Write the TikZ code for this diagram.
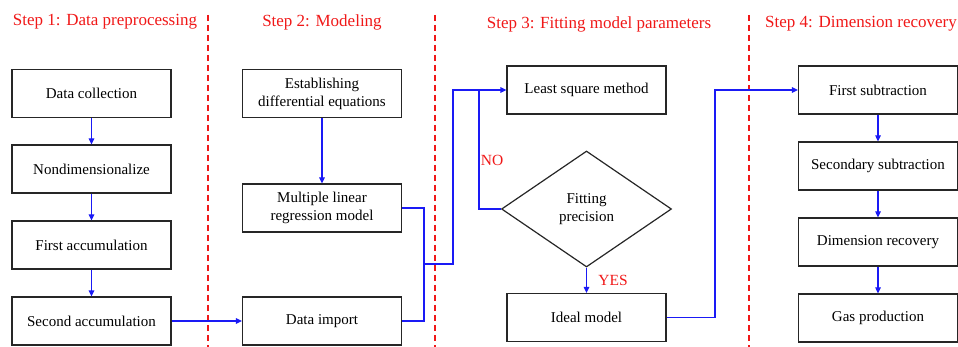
\documentclass[tikz,border=0pt]{standalone}
\usepackage{fontspec}
\setmainfont{Liberation Serif}
\usetikzlibrary{arrows.meta,shapes.geometric}
\definecolor{stepred}{HTML}{F01818}
\definecolor{flowblue}{HTML}{1A1AF5}
\tikzset{
  box/.style={draw=black!85,line width=1.2pt,minimum width=159pt,minimum height=48pt,inner sep=2pt,align=center,font=\fontsize{15}{18}\selectfont},
  dia/.style={draw=black!85,line width=1.2pt,diamond,minimum width=170pt,minimum height=116pt,inner sep=0pt,align=center,font=\fontsize{15}{18}\selectfont},
  flow/.style={draw=flowblue,line width=1.2pt},
  arr/.style={flow,-{Triangle[length=6pt,width=5.5pt]}},
  steplabel/.style={text=stepred,font=\fontsize{17}{20}\selectfont,inner sep=0pt},
  yn/.style={text=stepred,font=\fontsize{15.5}{18}\selectfont,inner sep=0pt},
  sep/.style={draw=stepred,line width=1.2pt,dash pattern=on 6pt off 4pt}
}
\begin{document}
\begin{tikzpicture}[x=1pt,y=-1pt]
\useasboundingbox (0,0) rectangle (958,347);
% separators
\draw[sep] (208,15) -- (208,347);
\draw[sep] (435,15) -- (435,347);
\draw[sep] (749,15) -- (749,347);
% step labels
\node[steplabel] (s1) at (105,22) {Step 1: Data preprocessing};
\node[steplabel] (s2) at (322,22) {Step 2: Modeling};
\node[steplabel] (s3) at (599,24) {Step 3: Fitting model parameters};
\node[steplabel] (s4) at (861,24) {Step 4: Dimension recovery};
% step 1
\node[box] (dc) at (91.5,93.5) {Data collection};
\node[box] (nd) at (91.5,169) {Nondimensionalize};
\node[box] (fa) at (91.5,245) {First accumulation};
\node[box] (sa) at (91.5,321) {Second accumulation};
% step 2
\node[box] (ed) at (322,93.5) {Establishing\\differential equations};
\node[box] (ml) at (322,208) {Multiple linear\\regression model};
\node[box] (di) at (322,321) {Data import};
% step 3
\node[box] (ls) at (586.5,90) {Least square method};
\node[dia] (fp) at (586.5,209) {Fitting\\precision};
\node[box] (im) at (586.5,317.5) {Ideal model};
% step 4
\node[box] (fs) at (878,90) {First subtraction};
\node[box] (ss) at (878,166) {Secondary subtraction};
\node[box] (dr) at (878,242) {Dimension recovery};
\node[box] (gp) at (878,318) {Gas production};
% connectors
\draw[arr] (dc) -- (nd);
\draw[arr] (nd) -- (fa);
\draw[arr] (fa) -- (sa);
\draw[arr] (sa) -- (di);
\draw[arr] (ed) -- (ml);
\coordinate (jx) at (424,264);
\draw[flow] (ml.east) -| (jx) |- (di.east);
\draw[arr] (jx) -- (453,264) |- (ls.west);
\coordinate (nojoin) at (479,90);
\draw[flow] (fp.west) -| (nojoin);
\draw[arr] (fp.south) -- (im.north);
\draw[arr] (im.east) -- (715,317.5) |- (fs.west);
\draw[arr] (fs) -- (ss);
\draw[arr] (ss) -- (dr);
\draw[arr] (dr) -- (gp);
% labels
\node[yn] (no) at (492,160) {NO};
\node[yn] (yes) at (613,280) {YES};
\end{tikzpicture}
\end{document}
